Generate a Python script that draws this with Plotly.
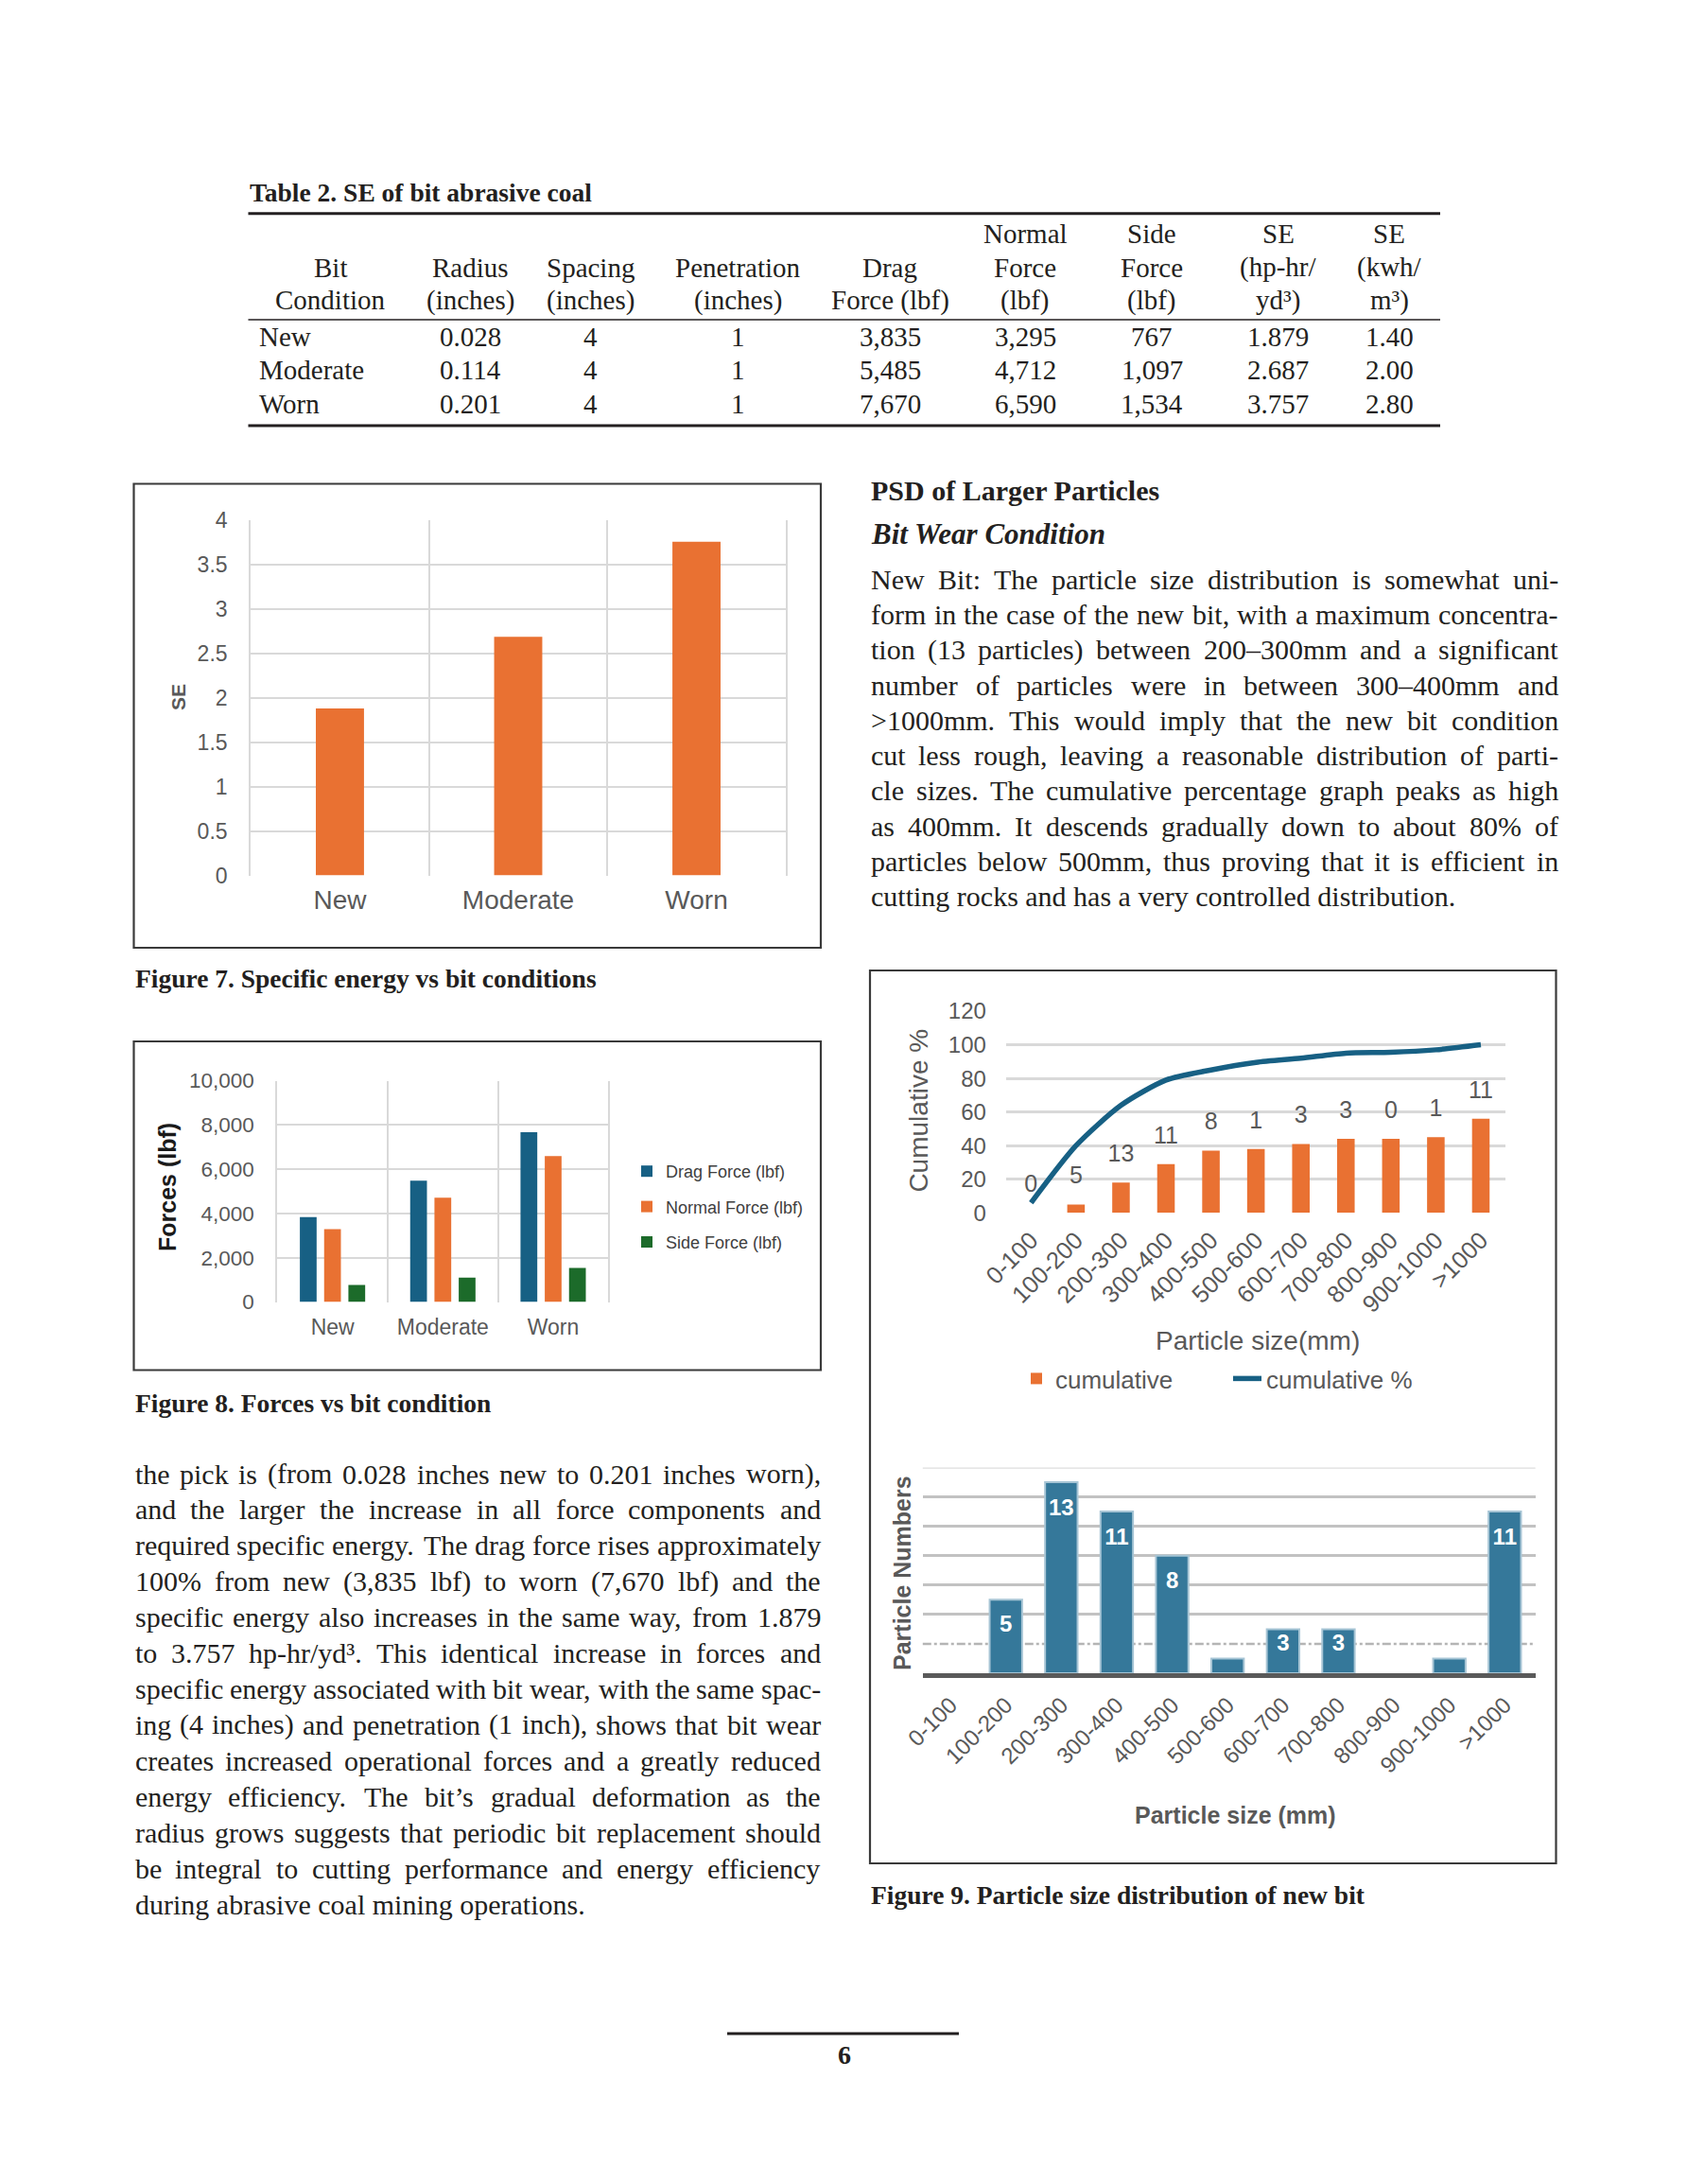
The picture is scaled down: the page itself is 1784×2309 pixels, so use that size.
import plotly.graph_objects as go

W, H = 1784, 2309

# ---------------- data ----------------
table_title = "Table 2. SE of bit abrasive coal"
header_rows = [
    ["", "", "", "", "", "Normal", "Side", "SE", "SE"],
    ["Bit", "Radius", "Spacing", "Penetration", "Drag", "Force", "Force", "(hp-hr/", "(kwh/"],
    ["Condition", "(inches)", "(inches)", "(inches)", "Force (lbf)", "(lbf)", "(lbf)",
     "yd³)", "m³)"],
]
conditions = ["New", "Moderate", "Worn"]
radius_in = [0.028, 0.114, 0.201]
spacing_in = [4, 4, 4]
penetration_in = [1, 1, 1]
drag_force = [3835, 5485, 7670]
normal_force = [3295, 4712, 6590]
side_force = [767, 1097, 1534]
se_hp = [1.879, 2.687, 3.757]
se_kwh = [1.40, 2.00, 2.80]

size_bins = ["0-100", "100-200", "200-300", "300-400", "400-500", "500-600",
             "600-700", "700-800", "800-900", "900-1000", ">1000"]
particle_counts = [0, 5, 13, 11, 8, 1, 3, 3, 0, 1, 11]
cumulative_counts = [0, 5, 18, 29, 37, 38, 41, 44, 44, 45, 56]
cumulative_pct = [6, 40, 64, 79, 85, 89.5, 92, 95, 95.5, 97, 100]

right_heading = "PSD of Larger Particles"
right_subheading = "Bit Wear Condition"
right_lines = [
    "New Bit: The particle size distribution is somewhat uni-",
    "form in the case of the new bit, with a maximum concentra-",
    "tion (13 particles) between 200–300mm and a significant",
    "number of particles were in between 300–400mm and",
    ">1000mm. This would imply that the new bit condition",
    "cut less rough, leaving a reasonable distribution of parti-",
    "cle sizes. The cumulative percentage graph peaks as high",
    "as 400mm. It descends gradually down to about 80% of",
    "particles below 500mm, thus proving that it is efficient in",
    "cutting rocks and has a very controlled distribution.",
]
left_lines = [
    "the pick is (from 0.028 inches new to 0.201 inches worn),",
    "and the larger the increase in all force components and",
    "required specific energy. The drag force rises approximately",
    "100% from new (3,835 lbf) to worn (7,670 lbf) and the",
    "specific energy also increases in the same way, from 1.879",
    "to 3.757 hp-hr/yd³. This identical increase in forces and",
    "specific energy associated with bit wear, with the same spac-",
    "ing (4 inches) and penetration (1 inch), shows that bit wear",
    "creates increased operational forces and a greatly reduced",
    "energy efficiency. The bit’s gradual deformation as the",
    "radius grows suggests that periodic bit replacement should",
    "be integral to cutting performance and energy efficiency",
    "during abrasive coal mining operations.",
]
caption7 = "Figure 7. Specific energy vs bit conditions"
caption8 = "Figure 8. Forces vs bit condition"
caption9 = "Figure 9. Particle size distribution of new bit"
page_number = "6"

# ---------------- style ----------------
SERIF = "Liberation Serif, Times New Roman, serif"
SANS = "Liberation Sans, Arial, sans-serif"
INK = "#231f20"
GRAY = "#595959"
GRID = "#d9d9d9"
ORANGE = "#e97132"
BLUE = "#176084"
GREEN = "#1c6b2a"
TEAL = "#35789a"

TIMES_W = {
    " ": 250, "!": 333, '"': 408, "%": 833, "&": 778, "'": 333, "(": 333, ")": 333,
    ",": 250, "-": 333, ".": 250, "/": 278, ":": 278, ";": 278, ">": 564, "<": 564,
    "?": 444, "–": 500, "’": 333, "³": 300,
    "A": 722, "B": 667, "C": 667, "D": 722, "E": 611, "F": 556, "G": 722, "H": 722,
    "I": 333, "J": 389, "K": 722, "L": 611, "M": 889, "N": 722, "O": 722, "P": 556,
    "Q": 722, "R": 667, "S": 556, "T": 611, "U": 722, "V": 722, "W": 944, "X": 722,
    "Y": 722, "Z": 611,
    "a": 444, "b": 500, "c": 444, "d": 500, "e": 444, "f": 333, "g": 500, "h": 500,
    "i": 278, "j": 278, "k": 500, "l": 278, "m": 778, "n": 500, "o": 500, "p": 500,
    "q": 500, "r": 333, "s": 389, "t": 278, "u": 500, "v": 500, "w": 722, "x": 500,
    "y": 500, "z": 444,
}


def px(x):
    return x / W


def py(y):
    return 1 - y / H


annotations = []
shapes = []


def add_text(x, y, s, size, family=SERIF, color=INK, anchor="left", weight="normal",
             style="normal", angle=0):
    annotations.append(dict(
        x=px(x), y=py(y), xref="paper", yref="paper", text=s, showarrow=False,
        xanchor=anchor, yanchor="middle", textangle=angle, borderpad=0,
        font=dict(family=family, size=size, color=color, weight=weight, style=style)))


def times_width(s):
    return sum(TIMES_W.get(c, 500) for c in s) / 1000.0


def add_paragraph(lines, x0, x1, y0, lh, size):
    for i, line in enumerate(lines):
        y = y0 + i * lh
        words = line.split(" ")
        if i == len(lines) - 1 or len(words) == 1:
            add_text(x0, y, line, size)
            continue
        widths = [times_width(w) * size for w in words]
        gap = (x1 - x0 - sum(widths)) / (len(words) - 1)
        x = x0
        for w, wd in zip(words, widths):
            add_text(x, y, w, size)
            x += wd + gap


def hline(x0, x1, y, width, color=INK):
    shapes.append(dict(type="line", xref="paper", yref="paper", x0=px(x0), x1=px(x1),
                       y0=py(y), y1=py(y), line=dict(color=color, width=width)))


def box(x0, y0, x1, y1):
    shapes.append(dict(type="rect", xref="paper", yref="paper", x0=px(x0), x1=px(x1),
                       y0=py(y1), y1=py(y0), line=dict(color="#3a3a3a", width=2.2),
                       fillcolor="rgba(0,0,0,0)"))


# ---------------- table ----------------
add_text(262.5, 203.5, table_title, 27.5, weight="bold")
hline(262.5, 1523, 225.7, 3)
hline(262.5, 1523, 338, 1.6)
hline(262.5, 1523, 450, 3)
col_x = [349.6, 497, 624.2, 780.6, 941, 1084.4, 1218, 1351.8, 1469.3]
header_y = [247.3, 283, 317.3]
for r, row in enumerate(header_rows):
    for c, s in enumerate(row):
        if s:
            add_text(col_x[c], header_y[r], s, 29, anchor="center")
row_y = [355.7, 391.3, 427.3]
for i, cond in enumerate(conditions):
    add_text(272.6, row_y[i], cond, 29)
    vals = [f"{radius_in[i]:.3f}", f"{spacing_in[i]}", f"{penetration_in[i]}",
            f"{drag_force[i]:,}", f"{normal_force[i]:,}", f"{side_force[i]:,}",
            f"{se_hp[i]:.3f}", f"{se_kwh[i]:.2f}"]
    for c, s in enumerate(vals):
        add_text(col_x[c + 1], row_y[i], s, 29, anchor="center")

# ---------------- body text ----------------
add_text(920, 519, right_heading, 30, weight="bold")
add_text(920, 564, right_subheading, 31, weight="bold", style="italic")
add_paragraph(right_lines, 920, 1647, 612.3, 37.25, 30)
add_paragraph(left_lines, 141.5, 867, 1558, 37.92, 30)

add_text(141.5, 1034, caption7, 27.5, weight="bold")
add_text(141.5, 1483.3, caption8, 27.5, weight="bold")
add_text(920, 2003.7, caption9, 27.5, weight="bold")
hline(769, 1014, 2150, 2.8)
add_text(892.7, 2172, page_number, 28, weight="bold", anchor="center")

# ---------------- figure boxes ----------------
box(141.5, 511.5, 868, 1002)
box(141.5, 1101, 868, 1448.5)
box(920, 1026, 1645.5, 1970)

# ---------------- axis titles ----------------
add_text(188, 737, "SE", 21, family=SANS, color=GRAY, anchor="center", weight="bold", angle=-90)
add_text(177, 1255, "Forces (lbf)", 25, family=SANS, color="#1a1a1a", anchor="center",
         weight="bold", angle=-90)
add_text(970.6, 1174, "Cumulative %", 28, family=SANS, color=GRAY, anchor="center", angle=-90)
add_text(1329.8, 1417.3, "Particle size(mm)", 28, family=SANS, color=GRAY, anchor="center")
add_text(954, 1663, "Particle Numbers", 25, family=SANS, color=GRAY, anchor="center",
         weight="bold", angle=-90)
add_text(1306.5, 1919, "Particle size (mm)", 25, family=SANS, color=GRAY, anchor="center",
         weight="bold")

# ---------------- traces ----------------
fig = go.Figure()

# Figure 7
fig.add_trace(go.Bar(x=conditions, y=se_hp, marker_color=ORANGE, width=0.27,
                     xaxis="x", yaxis="y", showlegend=False, name="SE"))

# Figure 8
for vals, name, color, off, grp in [
        (drag_force, "Drag Force (lbf)", BLUE, -0.296, "g1"),
        (normal_force, "Normal Force (lbf)", ORANGE, -0.076, "g2"),
        (side_force, "Side Force (lbf)", GREEN, 0.144, "g3")]:
    fig.add_trace(go.Bar(x=conditions, y=vals, name=name, marker_color=color,
                         width=0.152, offset=off, xaxis="x2", yaxis="y2",
                         legend="legend", legendgroup=grp))

# Figure 9 top
fig.add_trace(go.Bar(x=size_bins, y=cumulative_counts, name="cumulative",
                     marker_color=ORANGE, width=0.39, xaxis="x3", yaxis="y3",
                     legend="legend2"))
fig.add_trace(go.Scatter(x=size_bins, y=[c + 16 for c in cumulative_counts], mode="text",
                         text=[str(v) for v in particle_counts],
                         textfont=dict(family=SANS, size=25, color=GRAY),
                         xaxis="x3", yaxis="y3", showlegend=False, hoverinfo="skip"))
fig.add_trace(go.Scatter(x=size_bins, y=cumulative_pct, mode="lines", name="cumulative %",
                         line=dict(color=BLUE, width=5.5, shape="spline", smoothing=0.7),
                         xaxis="x3", yaxis="y3", legend="legend2"))

# Figure 9 bottom
fig.add_trace(go.Bar(x=size_bins, y=particle_counts, width=0.586,
                     marker=dict(color=TEAL,
                                 line=dict(color="#a7c5d5",
                                           width=[2 if v > 0 else 0 for v in particle_counts])),
                     xaxis="x4", yaxis="y4", showlegend=False, name="Particle Numbers"))
lab_bins = [b for b, v in zip(size_bins, particle_counts) if v >= 3]
lab_vals = [v for v in particle_counts if v >= 3]
fig.add_trace(go.Scatter(x=lab_bins, y=[v - min(1.85, 0.35 * v) for v in lab_vals],
                         mode="text", text=[str(v) for v in lab_vals],
                         textfont=dict(family=SANS, size=24, color="white", weight="bold"),
                         xaxis="x4", yaxis="y4", showlegend=False, hoverinfo="skip"))

shapes.append(dict(type="line", xref="x4 domain", yref="y4", x0=0, x1=1, y0=2, y1=2,
                   layer="below", line=dict(color="#b5b5b5", width=2.5, dash="dashdot")))
shapes.append(dict(type="line", xref="x4 domain", yref="y4", x0=0, x1=1, y0=14, y1=14,
                   layer="below", line=dict(color="#dedede", width=2.5)))

tick_gray = dict(family=SANS, color=GRAY)
frame = dict(showline=True, mirror=True, linecolor=GRID, linewidth=2)

fig.update_layout(
    width=W, height=H, margin=dict(l=0, r=0, t=0, b=0), template="none",
    paper_bgcolor="white", plot_bgcolor="white", barmode="group",
    font=dict(family=SANS, color=GRAY),
    xaxis=dict(domain=[px(265.2), px(830.8)], anchor="y", type="category",
               tickson="boundaries", showgrid=True, gridcolor=GRID, gridwidth=2,
               ticks="", zeroline=False, automargin=False,
               tickfont=dict(size=28, **tick_gray), ticklabelstandoff=6),
    yaxis=dict(domain=[py(925.5), py(550)], anchor="x", range=[0, 4], dtick=0.5,
               showgrid=True, gridcolor=GRID, gridwidth=2, ticks="", zeroline=False,
               automargin=False, tickfont=dict(size=23, **tick_gray),
               ticklabelstandoff=18, **frame),
    xaxis2=dict(domain=[px(293.3), px(643.3)], anchor="y2", type="category",
                tickson="boundaries", showgrid=True, gridcolor=GRID, gridwidth=2,
                ticks="", zeroline=False, automargin=False,
                tickfont=dict(size=23, **tick_gray), ticklabelstandoff=10),
    yaxis2=dict(domain=[py(1376.5), py(1142.5)], anchor="x2", range=[0, 10000], dtick=2000,
                tickformat=",d", showgrid=True, gridcolor=GRID, gridwidth=2, ticks="",
                zeroline=False, automargin=False,
                tickfont=dict(size=22.5, **tick_gray), ticklabelstandoff=18, **frame),
    xaxis3=dict(domain=[px(1063.9), px(1592.4)], anchor="y3", type="category",
                showgrid=False, ticks="", showline=False, zeroline=False, automargin=False,
                tickangle=-45, tickfont=dict(size=25.5, **tick_gray), ticklabelstandoff=8),
    yaxis3=dict(domain=[py(1282.3), py(1069)], anchor="x3", range=[0, 120], dtick=20,
                showgrid=True, gridcolor=GRID, gridwidth=3, ticks="", zeroline=False,
                showline=False, automargin=False, tickfont=dict(size=24, **tick_gray),
                ticklabelstandoff=20),
    xaxis4=dict(domain=[px(975.8), px(1623.7)], anchor="y4", type="category",
                showgrid=False, ticks="", showline=True, linecolor="#5a5a5a", linewidth=5,
                zeroline=False, automargin=False, tickangle=-45,
                tickfont=dict(size=24, **tick_gray), ticklabelstandoff=5),
    yaxis4=dict(domain=[py(1769), py(1551.5)], anchor="x4", range=[0, 14],
                tickvals=[4, 6, 8, 10, 12], showticklabels=False, showgrid=True,
                gridcolor="#c2c2c2", gridwidth=2.5, ticks="", zeroline=False,
                showline=False, automargin=False),
    legend=dict(x=px(664), y=py(1220), xanchor="left", yanchor="top",
                bgcolor="rgba(0,0,0,0)", font=dict(family=SANS, size=18, color="#404040"),
                tracegroupgap=11, orientation="v"),
    legend2=dict(x=px(1076), y=py(1434), xanchor="left", yanchor="top",
                 orientation="h", bgcolor="rgba(0,0,0,0)",
                 font=dict(family=SANS, size=26, color=GRAY),
                 entrywidth=178, entrywidthmode="pixels"),
    annotations=annotations,
    shapes=shapes,
)

fig.write_html("out.html", config={"displayModeBar": False},
               post_script="document.body.style.margin='0';")
